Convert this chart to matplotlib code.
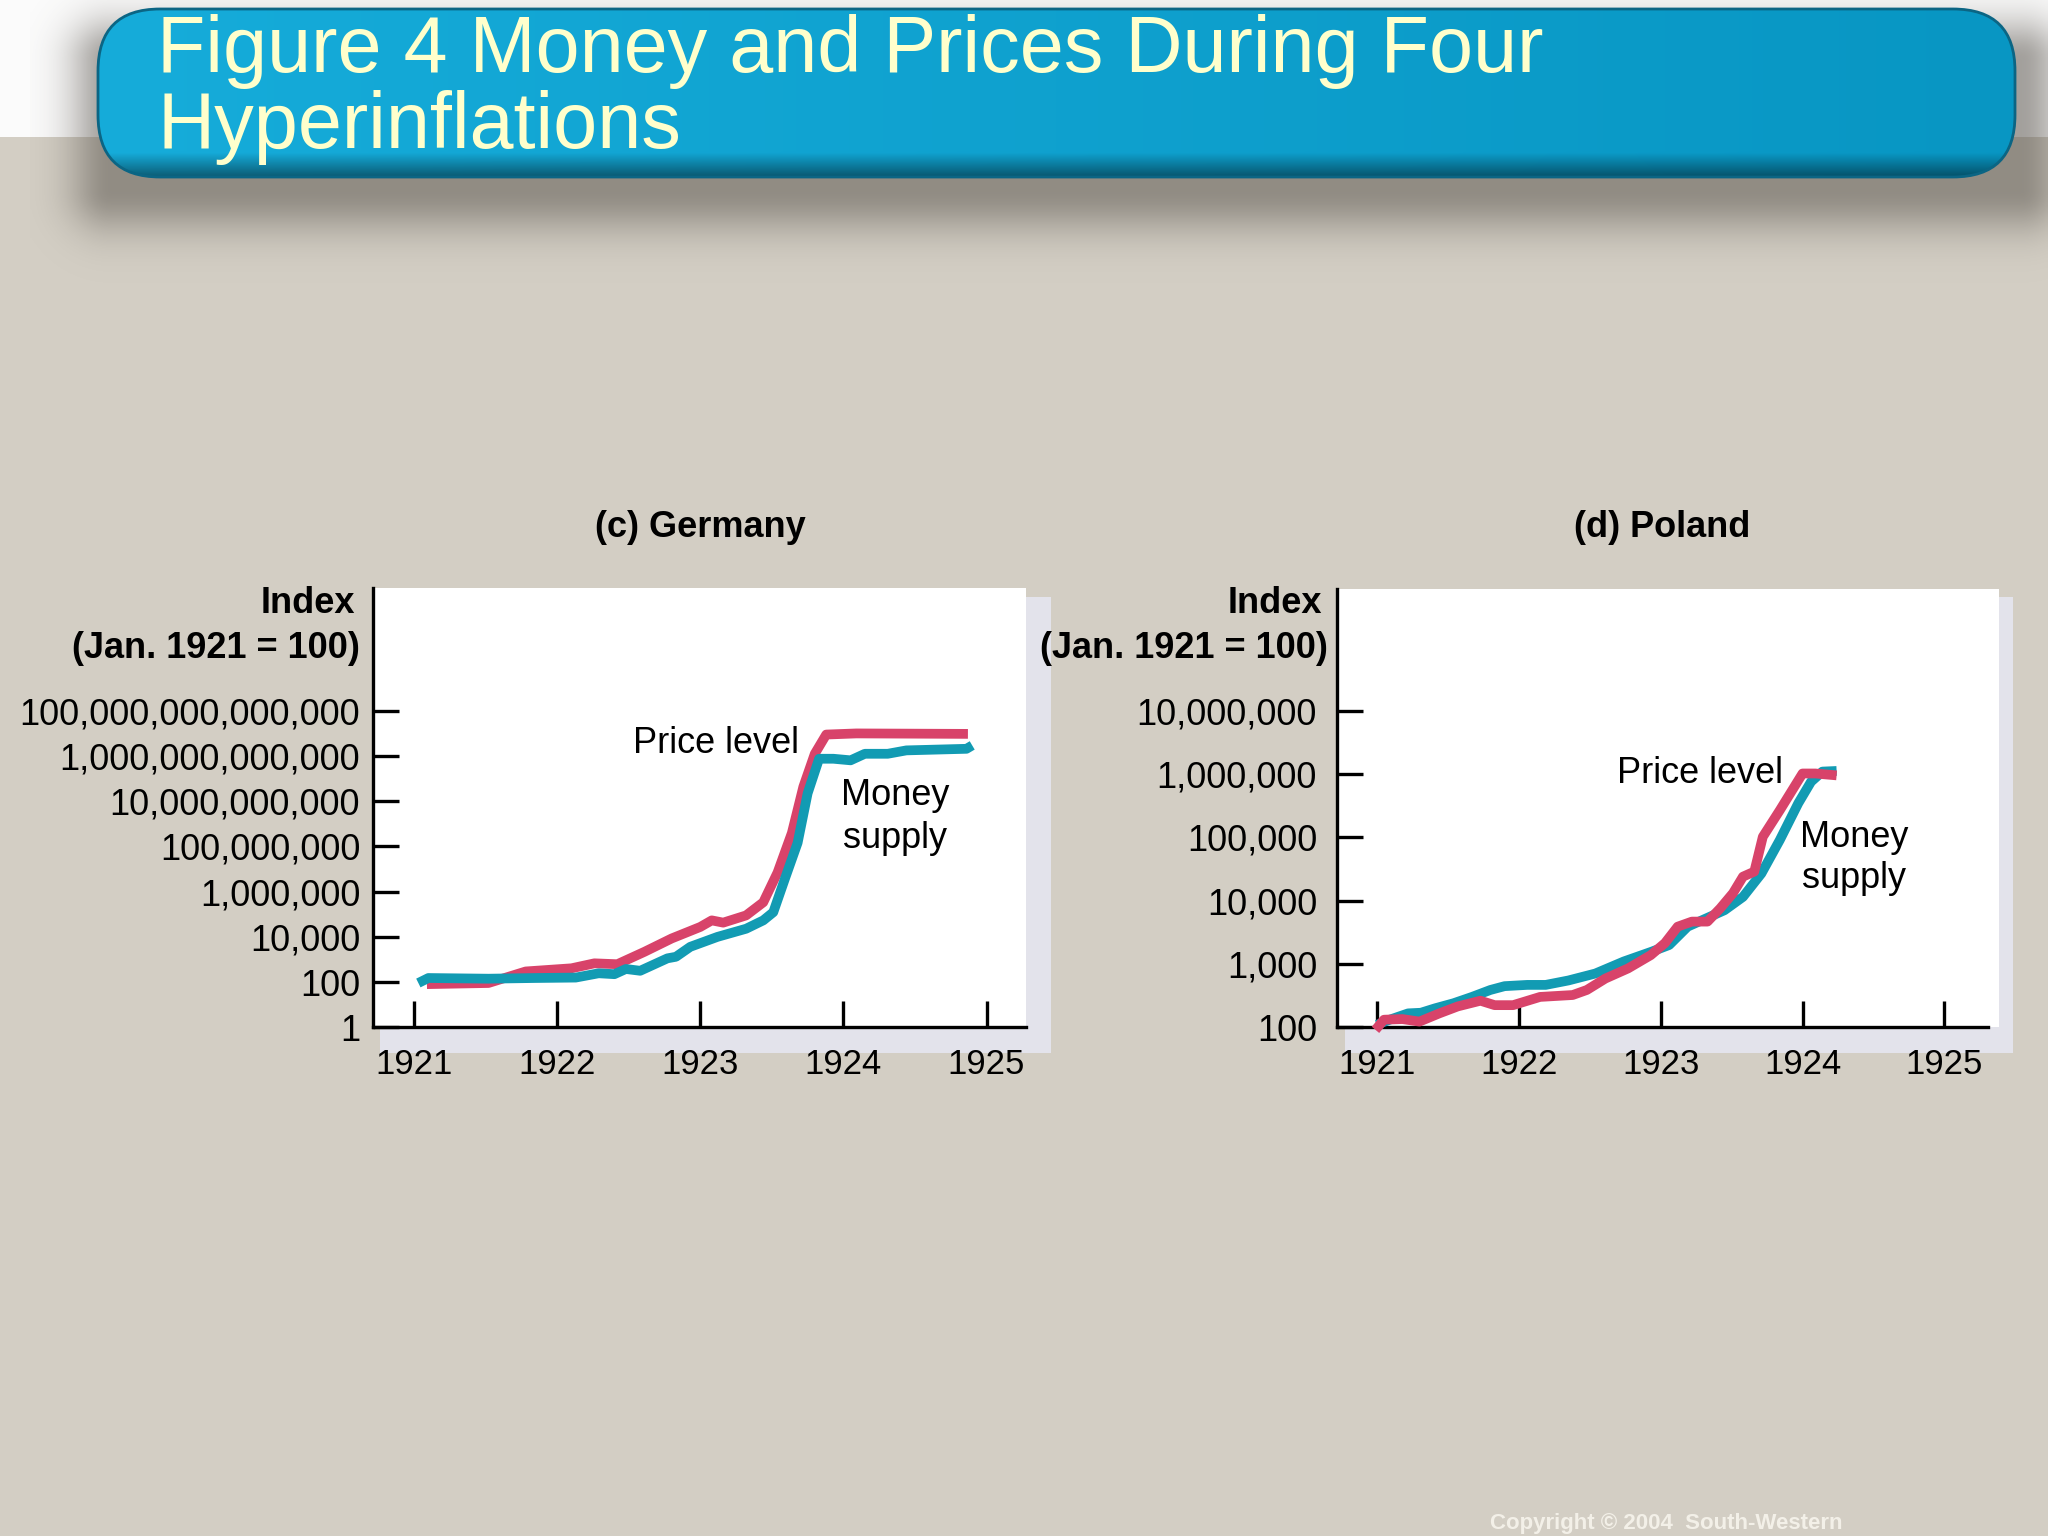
import numpy as np
import matplotlib
matplotlib.use("Agg")
import matplotlib.pyplot as plt
from matplotlib.patches import Rectangle, FancyBboxPatch
from matplotlib.ticker import FixedLocator, FixedFormatter, NullLocator

plt.rcParams['font.family'] = ['Liberation Sans', 'DejaVu Sans']

# ---------------- data (index values as log10 exponents, Jan. 1921 = 100) ----------------
germany_money_years = [1921.03, 1921.10, 1921.52, 1921.84, 1922.13, 1922.29, 1922.40, 1922.48,
                       1922.58, 1922.77, 1922.83, 1922.93, 1923.12, 1923.32, 1923.44, 1923.51,
                       1923.59, 1923.68, 1923.75, 1923.83, 1923.93, 1924.05, 1924.15, 1924.31,
                       1924.44, 1924.86, 1924.90]
germany_money_log = [1.96, 2.18, 2.15, 2.18, 2.20, 2.39, 2.35, 2.58,
                     2.50, 3.05, 3.12, 3.56, 4.00, 4.36, 4.73, 5.09,
                     6.55, 8.16, 10.35, 11.88, 11.88, 11.81, 12.10, 12.10,
                     12.25, 12.32, 12.47]

germany_price_years = [1921.09, 1921.52, 1921.78, 1922.10, 1922.26, 1922.42, 1922.61, 1922.80,
                       1923.00, 1923.08, 1923.16, 1923.32, 1923.44, 1923.54, 1923.64, 1923.72,
                       1923.80, 1923.88, 1924.09, 1924.87]
germany_price_log = [1.91, 1.96, 2.47, 2.61, 2.83, 2.79, 3.34, 3.93,
                     4.44, 4.73, 4.63, 4.95, 5.53, 6.85, 8.60, 10.64,
                     12.10, 12.95, 13.00, 12.98]

poland_money_years = [1921.00, 1921.09, 1921.22, 1921.31, 1921.41, 1921.54, 1921.67, 1921.80,
                      1921.90, 1922.06, 1922.19, 1922.35, 1922.54, 1922.74, 1922.93, 1923.06,
                      1923.19, 1923.32, 1923.45, 1923.58, 1923.71, 1923.84, 1923.97, 1924.06,
                      1924.14, 1924.24]
poland_money_log = [2.04, 2.12, 2.22, 2.23, 2.30, 2.38, 2.48, 2.59,
                    2.65, 2.67, 2.67, 2.74, 2.85, 3.04, 3.19, 3.30,
                    3.59, 3.72, 3.85, 4.06, 4.43, 4.96, 5.54, 5.88,
                    6.04, 6.05]

poland_price_years = [1920.99, 1921.05, 1921.18, 1921.30, 1921.44, 1921.57, 1921.73, 1921.83,
                      1921.96, 1922.15, 1922.38, 1922.48, 1922.61, 1922.77, 1922.93, 1923.03,
                      1923.12, 1923.22, 1923.33, 1923.42, 1923.51, 1923.58, 1923.66, 1923.72,
                      1923.84, 1924.00, 1924.09, 1924.24]
poland_price_log = [1.96, 2.12, 2.13, 2.09, 2.22, 2.33, 2.42, 2.35,
                    2.35, 2.48, 2.51, 2.59, 2.77, 2.93, 3.14, 3.33,
                    3.59, 3.67, 3.67, 3.88, 4.12, 4.38, 4.46, 5.01,
                    5.43, 6.01, 6.01, 5.98]

year_ticks = [1921, 1922, 1923, 1924, 1925]
year_labels = ['1921', '1922', '1923', '1924', '1925']
germany_yticks = [1, 1e2, 1e4, 1e6, 1e8, 1e10, 1e12, 1e14]
germany_ylabels = ['1', '100', '10,000', '1,000,000', '100,000,000', '10,000,000,000',
                   '1,000,000,000,000', '100,000,000,000,000']
poland_yticks = [1e2, 1e3, 1e4, 1e5, 1e6, 1e7]
poland_ylabels = ['100', '1,000', '10,000', '100,000', '1,000,000', '10,000,000']

title_lines = ['Figure 4 Money and Prices During Four', 'Hyperinflations']

# ---------------- styling ----------------
W, H = 2048, 1536
BEIGE = '#d3cec4'
RED = '#d8436a'
TEAL = '#129bb3'
SHADOW = '#e3e3eb'
LW = 7

fig = plt.figure(figsize=(20.48, 15.36), dpi=100)
fig.patch.set_facecolor(BEIGE)

bg = fig.add_axes([0, 0, 1, 1])
bg.axis('off')

# white band at top
bg.add_patch(Rectangle((0, 0), W, 137, color='#fbfbfb', zorder=0, lw=0))

# soft shadow of the title bar
sx0, sx1, sy0, sy1 = 30, 2048, 0, 310
xs = np.linspace(sx0, sx1, 700)
ys = np.linspace(sy0, sy1, 260)
X, Y = np.meshgrid(xs, ys)
rx0, rx1, ry0, ry1 = 110, 2022, 60, 190
dx = np.maximum(np.maximum(rx0 - X, X - rx1), 0)
dy = np.maximum(np.maximum(ry0 - Y, Y - ry1), 0)
d = np.hypot(dx, dy)
alpha = 0.55 * np.exp(-(d / 42.0) ** 2)
rgba = np.zeros(Y.shape + (4,))
rgba[..., 0] = 0.36
rgba[..., 1] = 0.34
rgba[..., 2] = 0.31
rgba[..., 3] = alpha
bg.imshow(rgba, extent=(sx0, sx1, sy1, sy0), aspect='auto', zorder=1,
          interpolation='bilinear')

# title bar
bx0, bx1, by0, by1 = 98, 2015, 9, 177
bar = FancyBboxPatch((bx0, by0), bx1 - bx0, by1 - by0,
                     boxstyle="round,pad=0,rounding_size=62",
                     facecolor='#0ea3d3', edgecolor='none', zorder=2)
bg.add_patch(bar)
gx = np.linspace(0, 1, 400)
c0 = np.array([0x16, 0xac, 0xda]) / 255
c1 = np.array([0x08, 0x96, 0xc3]) / 255
grad = c0[None, :] * (1 - gx[:, None]) + c1[None, :] * gx[:, None]
img = np.tile(grad[None, :, :], (80, 1, 1))
gy = np.linspace(0, 1, 80)
shade = 1 - 0.45 * np.clip((gy - 0.86) / 0.14, 0, 1)
img = img * shade[:, None, None]
im = bg.imshow(img, extent=(bx0, bx1, by1, by0), aspect='auto', zorder=3,
               interpolation='bilinear')
im.set_clip_path(bar)
bg.add_patch(FancyBboxPatch((bx0, by0), bx1 - bx0, by1 - by0,
                            boxstyle="round,pad=0,rounding_size=62",
                            fill=False, edgecolor='#0b6584', lw=2.0, zorder=4))

bg.text(157, 71.7, title_lines[0], fontsize=57, color='#ffffcc',
        va='baseline', ha='left', zorder=5)
bg.text(157, 148.3, title_lines[1], fontsize=57, color='#ffffcc',
        va='baseline', ha='left', zorder=5)

# panel backgrounds (shadow + white)
bg.add_patch(Rectangle((380, 597), 1051 - 380, 1053 - 597, color=SHADOW, lw=0, zorder=1))
bg.add_patch(Rectangle((372.7, 588.3), 1025.6 - 372.7, 1027.3 - 588.3, color='white', lw=0, zorder=2))
bg.add_patch(Rectangle((1345, 597), 2013 - 1345, 1053 - 597, color=SHADOW, lw=0, zorder=1))
bg.add_patch(Rectangle((1336.5, 589.3), 1998.6 - 1336.5, 1027.3 - 589.3, color='white', lw=0, zorder=2))

bg.set_xlim(0, W)
bg.set_ylim(H, 0)

# panel titles and axis titles
bg.text(700, 537, '(c) Germany', fontsize=26, fontweight='bold', ha='center', va='baseline')
bg.text(1662.6, 537, '(d) Poland', fontsize=26, fontweight='bold', ha='center', va='baseline')
bg.text(355, 613.3, 'Index', fontsize=26, fontweight='bold', ha='right', va='baseline')
bg.text(360, 658, '(Jan. 1921 = 100)', fontsize=26, fontweight='bold', ha='right', va='baseline')
bg.text(1321.7, 613.3, 'Index', fontsize=26, fontweight='bold', ha='right', va='baseline')
bg.text(1328.3, 658.3, '(Jan. 1921 = 100)', fontsize=26, fontweight='bold', ha='right', va='baseline')

# curve labels
bg.text(633, 752.7, 'Price level', fontsize=26, ha='left', va='baseline')
bg.text(895, 805, 'Money', fontsize=26, ha='center', va='baseline')
bg.text(895, 848.3, 'supply', fontsize=26, ha='center', va='baseline')
bg.text(1617, 782.7, 'Price level', fontsize=26, ha='left', va='baseline')
bg.text(1853.8, 846.7, 'Money', fontsize=26, ha='center', va='baseline')
bg.text(1853.8, 888.3, 'supply', fontsize=26, ha='center', va='baseline')

bg.text(1490, 1529, 'Copyright \u00a9 2004  South-Western', fontsize=16, fontweight='bold',
        color='#f3f0e8', ha='left', va='baseline')


def make_axes(left, right, top, bottom):
    ax = fig.add_axes([left / W, 1 - bottom / H, (right - left) / W, (bottom - top) / H])
    ax.set_facecolor('none')
    for s in ('top', 'right'):
        ax.spines[s].set_visible(False)
    for s in ('left', 'bottom'):
        ax.spines[s].set_linewidth(2.4)
        ax.spines[s].set_color('black')
    return ax


def style_axes(ax, yticks, ylabels, ypad):
    ax.set_yscale('log')
    ax.yaxis.set_major_locator(FixedLocator(yticks))
    ax.yaxis.set_major_formatter(FixedFormatter(ylabels))
    ax.yaxis.set_minor_locator(NullLocator())
    ax.xaxis.set_major_locator(FixedLocator(year_ticks))
    ax.xaxis.set_major_formatter(FixedFormatter(year_labels))
    ax.xaxis.set_minor_locator(NullLocator())
    ax.tick_params(axis='both', which='major', direction='in', length=18.7, width=2.4,
                   color='black')
    ax.tick_params(axis='y', labelsize=26, pad=ypad)
    ax.tick_params(axis='x', labelsize=25, pad=15)


# Germany
axg = make_axes(372.7, 1025.6, 588.3, 1027.3)
axg.plot(germany_price_years, 10 ** np.array(germany_price_log), color=RED, lw=LW,
         solid_joinstyle='round', solid_capstyle='butt', zorder=3)
axg.plot(germany_money_years, 10 ** np.array(germany_money_log), color=TEAL, lw=LW,
         solid_joinstyle='round', solid_capstyle='butt', zorder=4)
style_axes(axg, germany_yticks, germany_ylabels, 9)
axg.set_xlim(1920.711, 1925.273)
axg.set_ylim(1, 10 ** 19.42)

# Poland
axp = make_axes(1336.5, 1988, 589.3, 1027.3)
axp.plot(poland_money_years, 10 ** np.array(poland_money_log), color=TEAL, lw=LW,
         solid_joinstyle='round', solid_capstyle='butt', zorder=3)
axp.plot(poland_price_years, 10 ** np.array(poland_price_log), color=RED, lw=LW,
         solid_joinstyle='round', solid_capstyle='butt', zorder=4)
style_axes(axp, poland_yticks, poland_ylabels, 14)
axp.set_xlim(1920.7154, 1925.307)
axp.set_ylim(100, 10 ** 8.92)
for a in (axg, axp):
    for line in a.get_lines():
        line.set_clip_on(False)

fig.savefig('out.png', dpi=100, facecolor=fig.get_facecolor())
